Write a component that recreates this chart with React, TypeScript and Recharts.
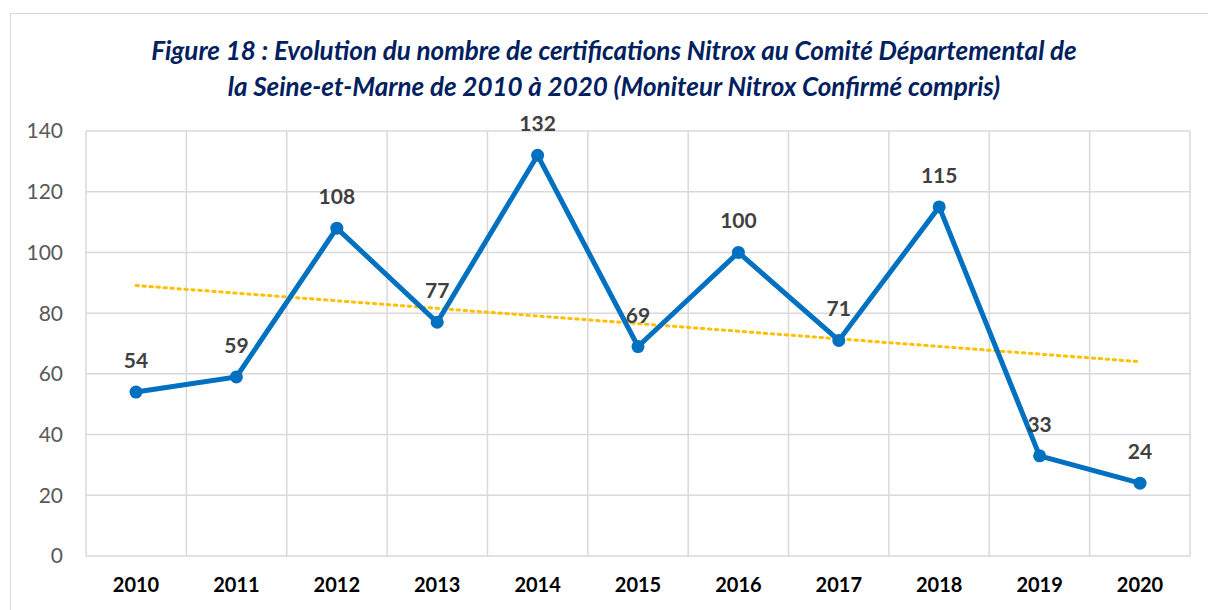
import * as React from "react";
import {
  CartesianGrid,
  LabelList,
  Line,
  LineChart,
  XAxis,
  YAxis,
} from "recharts";

// values
const years = ["2010", "2011", "2012", "2013", "2014", "2015", "2016", "2017", "2018", "2019", "2020"];
const certifications = [54, 59, 108, 77, 132, 69, 100, 71, 115, 33, 24];
// linear trendline: only its two ends
const trendEnds = [89.1, null, null, null, null, null, null, null, null, null, 64.0];
const yTicks = [0, 20, 40, 60, 80, 100, 120, 140];

const titleLines = [
  "Figure 18 : Evolution du nombre de certifications Nitrox au Comité Départemental de",
  "la Seine-et-Marne de 2010 à 2020 (Moniteur Nitrox Confirmé compris)",
];

const W = 1208;
const H = 610;
const FONT = "Lato, 'Open Sans', sans-serif";

export default function App(): JSX.Element {
  const data = years.map((year, i) => ({
    year,
    value: certifications[i],
    trend: trendEnds[i],
  }));

  return (
    <div style={{ position: "absolute", left: 0, top: 0, width: W, height: H, overflow: "hidden", background: "#fff", fontFamily: FONT }}>
      <div
        style={{
          position: "absolute",
          left: 10,
          top: 13,
          width: W,
          height: H,
          border: "1.5px solid #d9d9d9",
          boxSizing: "border-box",
        }}
      />
      <div
        style={{
          position: "absolute",
          left: 10,
          top: 32,
          width: W,
          textAlign: "center",
          color: "#002060",
          fontStyle: "italic",
          fontWeight: 700,
          fontSize: 26,
          lineHeight: "36px",
          whiteSpace: "nowrap",
        }}
      >
        {titleLines.map((t) => (
          <div key={t}>{t}</div>
        ))}
      </div>
      <LineChart
        width={W}
        height={H}
        data={data}
        margin={{ top: 131, right: 18, bottom: 0, left: 26 }}
        style={{ position: "absolute", left: 0, top: 0 }}
      >
        <CartesianGrid
          stroke="#d9d9d9"
          strokeWidth={1.5}
          verticalCoordinatesGenerator={({ offset }: any) =>
            Array.from({ length: years.length + 1 }, (_, i) => offset.left + (i * offset.width) / years.length)
          }
        />
        <XAxis
          dataKey="year"
          height={54}
          axisLine={false}
          tickLine={false}
          tickSize={0}
          tickMargin={22}
          padding={{ left: 50, right: 50 }}
          interval={0}
          tick={{ fontSize: 20, fontWeight: 700, fill: "#000", fontFamily: FONT }}
        />
        <YAxis
          domain={[0, 140]}
          ticks={yTicks}
          width={60}
          axisLine={false}
          tickLine={false}
          tickSize={0}
          tickMargin={23}
          tick={{ fontSize: 21, fill: "#595959", fontFamily: FONT }}
        />
        <Line
          dataKey="trend"
          connectNulls
          stroke="#FFC000"
          strokeWidth={3}
          strokeDasharray="2.5 4.5"
          strokeLinecap="round"
          dot={false}
          activeDot={false}
          isAnimationActive={false}
        />
        <Line
          dataKey="value"
          stroke="#0070C0"
          strokeWidth={5}
          dot={{ r: 6.5, fill: "#0070C0", stroke: "#0070C0", strokeWidth: 0 }}
          activeDot={false}
          isAnimationActive={false}
        >
          <LabelList
            dataKey="value"
            position="top"
            offset={24}
            style={{ fontSize: 21, fontWeight: 700, fill: "#404040", fontFamily: FONT }}
          />
        </Line>
      </LineChart>
    </div>
  );
}
